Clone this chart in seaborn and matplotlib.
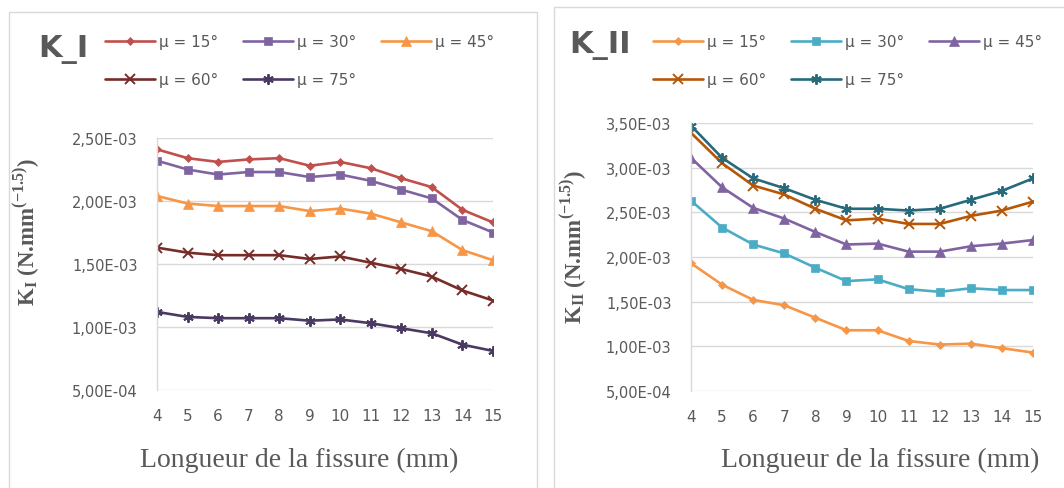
import numpy as np
import pandas as pd
import matplotlib
matplotlib.use("Agg")
import matplotlib.pyplot as plt
from matplotlib.patches import Rectangle
from matplotlib.ticker import FuncFormatter
import seaborn as sns

# --- Data (values in units of 1e-3 N.mm^-1.5) -------------------------------
longueur = [4, 5, 6, 7, 8, 9, 10, 11, 12, 13, 14, 15]
angles   = ["μ = 15°", "μ = 30°", "μ = 45°", "μ = 60°", "μ = 75°"]

ki_15 = [2.41, 2.34, 2.31, 2.33, 2.34, 2.28, 2.31, 2.26, 2.18, 2.11, 1.93, 1.83]
ki_30 = [2.32, 2.25, 2.21, 2.23, 2.23, 2.19, 2.21, 2.16, 2.09, 2.02, 1.85, 1.75]
ki_45 = [2.04, 1.98, 1.96, 1.96, 1.96, 1.92, 1.94, 1.90, 1.83, 1.76, 1.61, 1.53]
ki_60 = [1.63, 1.59, 1.57, 1.57, 1.57, 1.54, 1.56, 1.51, 1.46, 1.40, 1.29, 1.21]
ki_75 = [1.12, 1.08, 1.07, 1.07, 1.07, 1.05, 1.06, 1.03, 0.99, 0.95, 0.86, 0.81]

kii_15 = [1.93, 1.69, 1.52, 1.46, 1.32, 1.18, 1.18, 1.06, 1.02, 1.03, 0.98, 0.93]
kii_30 = [2.63, 2.33, 2.14, 2.04, 1.88, 1.73, 1.75, 1.64, 1.61, 1.65, 1.63, 1.63]
kii_45 = [3.11, 2.78, 2.55, 2.43, 2.28, 2.14, 2.15, 2.06, 2.06, 2.12, 2.15, 2.19]
kii_60 = [3.39, 3.05, 2.80, 2.70, 2.54, 2.41, 2.43, 2.37, 2.37, 2.46, 2.52, 2.62]
kii_75 = [3.47, 3.11, 2.88, 2.77, 2.64, 2.54, 2.54, 2.52, 2.54, 2.64, 2.74, 2.88]

ki_series  = [ki_15, ki_30, ki_45, ki_60, ki_75]
kii_series = [kii_15, kii_30, kii_45, kii_60, kii_75]

# --- Styles ------------------------------------------------------------------
ki_colors  = ["#C0504D", "#8064A2", "#F79646", "#772C2A", "#4A3A62"]
kii_colors = ["#F79646", "#4BACC6", "#8064A2", "#B65708", "#276A7C"]
markers    = ["D", "s", "^", "x", (6, 2, 0)]
msizes     = [4.0, 6.0, 6.5, 6.5, 7.5]
TXT = "#595959"
GRID = "#D9D9D9"

sns.set_theme(style="white")
plt.rcParams["font.family"] = ["DejaVu Sans"]


def long_df(series):
    frames = []
    for name, vals in zip(angles, series):
        frames.append(pd.DataFrame({"x": longueur,
                                    "K": np.array(vals) * 1e-3,
                                    "angle": name}))
    return pd.concat(frames, ignore_index=True)


def draw_panel(ax, df, colors, ylim):
    for i, name in enumerate(angles):
        sub = df[df["angle"] == name]
        mk = markers[i]
        sns.lineplot(data=sub, x="x", y="K", ax=ax, color=colors[i],
                     linewidth=1.9, marker=mk, markersize=msizes[i],
                     markeredgecolor=colors[i],
                     markeredgewidth=1.4 if mk in ("x", (6, 2, 0)) else 0.5,
                     label=name, legend=True)
    ax.set_xlim(4, 15)
    ax.set_ylim(*ylim)
    ax.set_xticks(longueur)
    ax.set_yticks(np.arange(ylim[0], ylim[1] + 1e-9, 5e-4))
    ax.yaxis.set_major_formatter(
        FuncFormatter(lambda v, p: f"{v:.2E}".replace(".", ",")))
    ax.grid(axis="y", color=GRID, linewidth=1.0)
    ax.grid(axis="x", visible=False)
    ax.set_axisbelow(True)
    for s in ["top", "right", "bottom"]:
        ax.spines[s].set_visible(False)
    ax.spines["left"].set_color(GRID)
    ax.spines["left"].set_linewidth(1.0)
    ax.tick_params(axis="y", length=0, pad=14, labelsize=10.5, labelcolor=TXT)
    ax.tick_params(axis="x", length=0, pad=13, labelsize=11, labelcolor=TXT)
    ax.set_xlabel("")
    ax.set_ylabel("")
    handles, labels = ax.get_legend_handles_labels()
    ax.get_legend().remove()
    return handles, labels


fig = plt.figure(figsize=(10.64, 4.89), dpi=100)
W, H = 1064.0, 489.0

# panel frames
fig.add_artist(Rectangle((9 / W, -0.05), 528 / W, 1 - 13 / H + 0.05,
                         transform=fig.transFigure, fill=False,
                         edgecolor=GRID, linewidth=1.0))
fig.add_artist(Rectangle((554 / W, -0.05), 530 / W, 1 - 8 / H + 0.05,
                         transform=fig.transFigure, fill=False,
                         edgecolor=GRID, linewidth=1.0))

ax1 = fig.add_axes([157 / W, 1 - 391 / H, 336 / W, 252 / H])
ax2 = fig.add_axes([691 / W, 1 - 392 / H, 342 / W, 268 / H])

h1, l1 = draw_panel(ax1, long_df(ki_series), ki_colors, (5e-4, 2.5e-3))
h2, l2 = draw_panel(ax2, long_df(kii_series), kii_colors, (5e-4, 3.5e-3))

serif = ["Liberation Serif", "DejaVu Serif"]
ax1.set_ylabel(r"K$_\mathregular{I}$ (N.mm$^\mathregular{(-1.5)}$)",
               family=serif, fontsize=16.5, color=TXT, fontweight="bold")
ax1.yaxis.set_label_coords(-0.345, 0.63)
ax2.set_ylabel(r"K$_\mathregular{II}$ (N.mm$^\mathregular{(-1.5)}$)",
               family=serif, fontsize=16.5, color=TXT, fontweight="bold")
ax2.yaxis.set_label_coords(-0.30, 0.54)

ax1.set_xlabel("Longueur de la fissure (mm)", family=serif, fontsize=20,
               color=TXT)
ax1.xaxis.set_label_coords(0.4226, -0.225)
ax2.set_xlabel("Longueur de la fissure (mm)", family=serif, fontsize=20,
               color=TXT)
ax2.xaxis.set_label_coords(0.553, -0.21)

# titles
fig.text(38 / W, 1 - 50 / H, "K_I", fontsize=22, fontweight="bold",
         color=TXT, ha="left", va="center")
fig.text(569 / W, 1 - 46 / H, "K_II", fontsize=22, fontweight="bold",
         color=TXT, ha="left", va="center")

# legends: row-major order (3 on first row, 2 on second)
order = [0, 3, 1, 4, 2]
for hs, ls, x0 in [(h1, l1, 105), (h2, l2, 653)]:
    fig.legend([hs[i] for i in order], [ls[i] for i in order],
               loc="upper left", bbox_to_anchor=(x0 / W, 1 - 35 / H),
               ncol=3, frameon=False, borderpad=0, borderaxespad=0,
               handlelength=3.3, handletextpad=0.25, columnspacing=1.6,
               labelspacing=1.5, fontsize=11, labelcolor=TXT)

fig.savefig("out.png", dpi=100)
